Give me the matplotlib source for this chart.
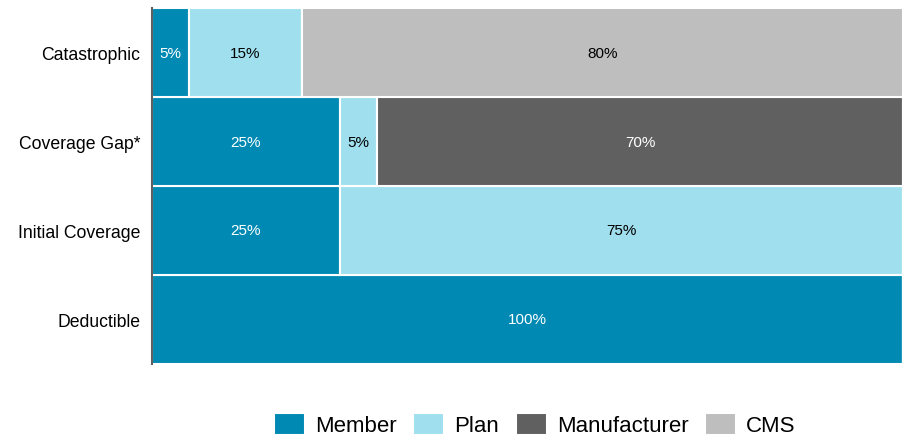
import matplotlib.pyplot as plt
import numpy as np

plt.rcParams['font.family'] = ['Liberation Sans', 'DejaVu Sans']

phases = ['Deductible', 'Initial Coverage', 'Coverage Gap*', 'Catastrophic']
payers = ['Member', 'Plan', 'Manufacturer', 'CMS']
member = [100, 25, 25, 5]
plan = [0, 75, 5, 15]
manufacturer = [0, 0, 70, 0]
cms = [0, 0, 0, 80]
colors = ['#0089b3', '#a0e0ee', '#606060', '#bebebe']
text_colors = ['white', 'black', 'white', 'black']

fig = plt.figure(figsize=(9.03, 4.39), dpi=100)
ax = fig.add_axes([0.168, 0.169, 0.832, 0.81])

y = np.arange(len(phases))
left = np.zeros(len(phases))
for name, vals, c, tc in zip(payers, [member, plan, manufacturer, cms], colors, text_colors):
    vals = np.array(vals, dtype=float)
    bars = ax.barh(y, vals, left=left, height=1.0, color=c, edgecolor='white',
                   linewidth=1.5, label=name)
    for b, v in zip(bars, vals):
        if v > 0:
            ax.text(b.get_x() + b.get_width() / 2, b.get_y() + b.get_height() / 2,
                    f'{int(v)}%', ha='center', va='center', color=tc, fontsize=11)
    left += vals

ax.set_xlim(0, 100)
ax.set_ylim(-0.5, 3.5)
ax.set_yticks(y)
ax.set_yticklabels(phases, fontsize=12.7)
ax.set_xticks([])
ax.tick_params(axis='y', length=0, pad=8)
for s in ['top', 'right', 'bottom']:
    ax.spines[s].set_visible(False)
ax.spines['left'].set_color('#606060')
ax.spines['left'].set_linewidth(1.5)

fig.legend(loc='center', bbox_to_anchor=(0.592, 0.03), ncol=4, frameon=False,
           fontsize=16, handlelength=1.4, handleheight=1.1, columnspacing=0.75,
           handletextpad=0.45)

fig.savefig('out.png', dpi=100)
